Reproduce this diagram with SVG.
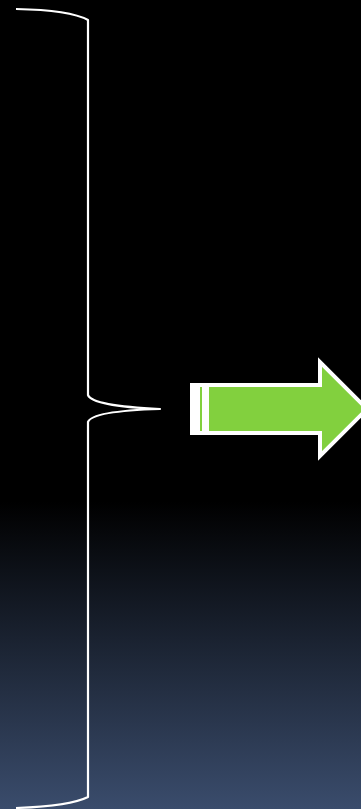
<svg xmlns="http://www.w3.org/2000/svg" width="361" height="809" viewBox="0 0 361 809">
<defs>
<linearGradient id="bg" x1="0" y1="0" x2="0" y2="1">
<stop offset="0" stop-color="#000000"/>
<stop offset="0.62" stop-color="#000000"/>
<stop offset="1" stop-color="#3a4c6c"/>
</linearGradient>
<style>
.brace{fill:none;stroke:#ffffff;stroke-width:2.2;stroke-linecap:butt;stroke-linejoin:round}
.green{fill:#82d03e}
.arrow{fill:#82d03e;stroke:#ffffff;stroke-width:4;stroke-linejoin:miter}
</style>
</defs>
<rect x="0" y="0" width="361" height="809" fill="url(#bg)"/>
<g id="brace">
<path class="brace" d="M16,9 Q70,10 88,20 L88,395 Q92,406 160,409 Q92,411 88,422 L88,797 Q70,806 16,808"/>
</g>
<g id="arrow">
<rect x="190" y="383" width="19" height="52" fill="#ffffff"/>
<rect class="green" x="200" y="387" width="2" height="44"/>
<polygon class="arrow" points="207,385 320,385 320,362 367,409 320,456 320,433 207,433"/>
</g>
</svg>
